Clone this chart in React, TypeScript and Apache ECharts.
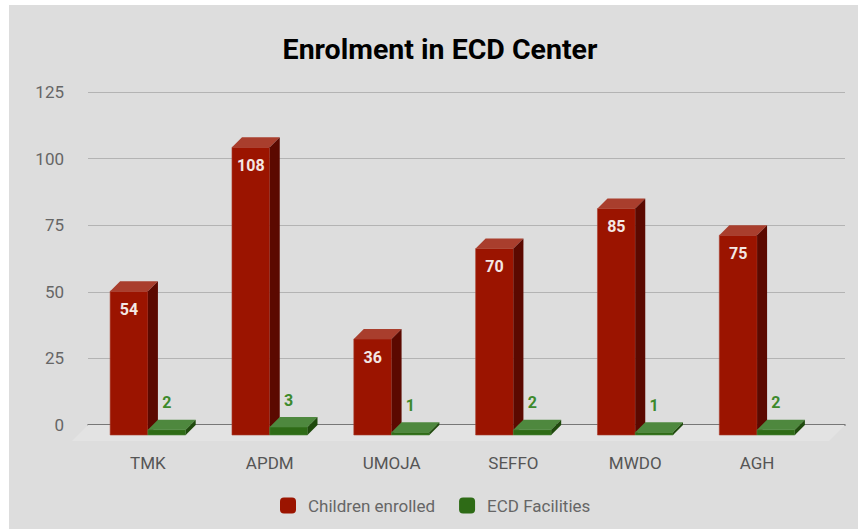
import React, { useEffect, useRef } from "react";
import * as echarts from "echarts";

const categories = ["TMK", "APDM", "UMOJA", "SEFFO", "MWDO", "AGH"];
const childrenEnrolled = [54, 108, 36, 70, 85, 75];
const ecdFacilities = [2, 3, 1, 2, 1, 2];
const seriesNames = ["Children enrolled", "ECD Facilities"];
const yMin = 0;
const yMax = 125;
const yInterval = 25;

const FONT = "Roboto, 'Noto Sans', sans-serif";

type Face = { front: string; top: string; side: string };
const RED: Face = { front: "#9b1400", top: "#a93e2d", side: "#5b0900" };
const GREEN: Face = { front: "#2e6b16", top: "#4e883e", side: "#1f4a0d" };

function makeBar(slot: number, face: Face, labelColor: string, inside: boolean) {
  return (params: any, api: any) => {
    const i = api.value(0);
    const v = api.value(1);
    const top = api.coord([i, v]);
    const base = api.coord([i, 0]);
    const catW = api.size([1, 0])[0];
    const bw = catW * 0.31;
    const d = 10;
    const x0 = top[0] + (slot === 0 ? -bw : 0);
    const x1 = x0 + bw;
    const yT = top[1];
    const y0 = base[1];
    return {
      type: "group",
      children: [
        {
          type: "polygon",
          shape: { points: [[x0, yT], [x1, yT], [x1, y0], [x0, y0]] },
          style: { fill: face.front, stroke: face.top, lineWidth: 0.6 },
        },
        {
          type: "polygon",
          shape: { points: [[x0, yT], [x0 + d, yT - d], [x1 + d, yT - d], [x1, yT]] },
          style: { fill: face.top },
        },
        {
          type: "polygon",
          shape: { points: [[x1, yT], [x1 + d, yT - d], [x1 + d, y0 - d], [x1, y0]] },
          style: { fill: face.side },
        },
        {
          type: "text",
          style: {
            text: String(v),
            x: (x0 + x1) / 2,
            y: inside ? yT + 18 : yT - 27,
            align: "center",
            verticalAlign: "middle",
            fill: labelColor,
            fontSize: 16,
            fontWeight: "bold",
            fontFamily: FONT,
          },
        },
      ],
    };
  };
}

function renderFloor(params: any, api: any) {
  const cs = params.coordSys;
  const yb = cs.y + cs.height;
  const off = 16;
  return {
    type: "polygon",
    shape: {
      points: [
        [cs.x, yb],
        [cs.x + cs.width, yb],
        [cs.x + cs.width - off, yb + off],
        [cs.x - off, yb + off],
      ],
    },
    style: { fill: "#e3e3e3" },
  };
}

export default function App() {
  const ref = useRef<HTMLDivElement>(null);
  useEffect(() => {
    const chart = echarts.init(ref.current!, null, { renderer: "svg" });
    chart.setOption({
      animation: false,
      backgroundColor: "#dddddd",
      color: [RED.front, GREEN.front],
      title: {
        text: "Enrolment in ECD Center",
        left: 426,
        top: 25,
        textAlign: "center",
        textStyle: { fontFamily: FONT, fontSize: 28.5, fontWeight: "bold", color: "#000" },
      },
      legend: {
        data: seriesNames,
        left: 266,
        top: 487,
        itemWidth: 16,
        itemHeight: 16,
        itemGap: 24,
        icon: "roundRect",
        textStyle: { fontFamily: FONT, fontSize: 17, color: "#666", padding: [0, 0, 0, 7] },
      },
      grid: [
        { left: 79, right: 13, top: 87, bottom: 104 },
        { left: 78, right: 40, top: 97, bottom: 94 },
      ],
      xAxis: [
        {
          gridIndex: 0,
          type: "value",
          min: 0,
          max: 1,
          axisLabel: { show: false },
          axisTick: { show: false },
          splitLine: { show: false },
          axisLine: { show: true, lineStyle: { color: "#555", width: 1.5 } },
        },
        {
          gridIndex: 1,
          type: "category",
          data: categories,
          axisLine: { show: false },
          axisTick: { show: false },
          axisLabel: { margin: 19, fontFamily: FONT, fontSize: 17, color: "#555" },
        },
      ],
      yAxis: [
        {
          gridIndex: 0,
          type: "value",
          min: yMin,
          max: yMax,
          interval: yInterval,
          axisLine: { show: false },
          axisTick: { show: false },
          axisLabel: { margin: 24, fontFamily: FONT, fontSize: 17, color: "#666" },
          splitLine: { lineStyle: { color: "#b3b3b3", width: 1 } },
        },
        {
          gridIndex: 1,
          type: "value",
          min: yMin,
          max: yMax,
          interval: yInterval,
          show: false,
        },
      ],
      series: [
        {
          type: "custom",
          name: "floor",
          xAxisIndex: 0,
          yAxisIndex: 0,
          data: [[0, 0]],
          renderItem: renderFloor,
          silent: true,
          z: 1,
        },
        {
          type: "custom",
          name: seriesNames[0],
          xAxisIndex: 1,
          yAxisIndex: 1,
          data: childrenEnrolled.map((v, i) => [i, v]),
          encode: { x: 0, y: 1 },
          itemStyle: { color: RED.front },
          renderItem: makeBar(0, RED, "#f3e7e4", true),
          z: 3,
        },
        {
          type: "custom",
          name: seriesNames[1],
          xAxisIndex: 1,
          yAxisIndex: 1,
          data: ecdFacilities.map((v, i) => [i, v]),
          encode: { x: 0, y: 1 },
          itemStyle: { color: GREEN.front },
          renderItem: makeBar(1, GREEN, "#3d8a2c", false),
          z: 4,
        },
      ],
    });
    return () => chart.dispose();
  }, []);
  return (
    <div
      ref={ref}
      style={{ position: "fixed", left: 9, top: 5, width: 849, height: 524 }}
    />
  );
}
